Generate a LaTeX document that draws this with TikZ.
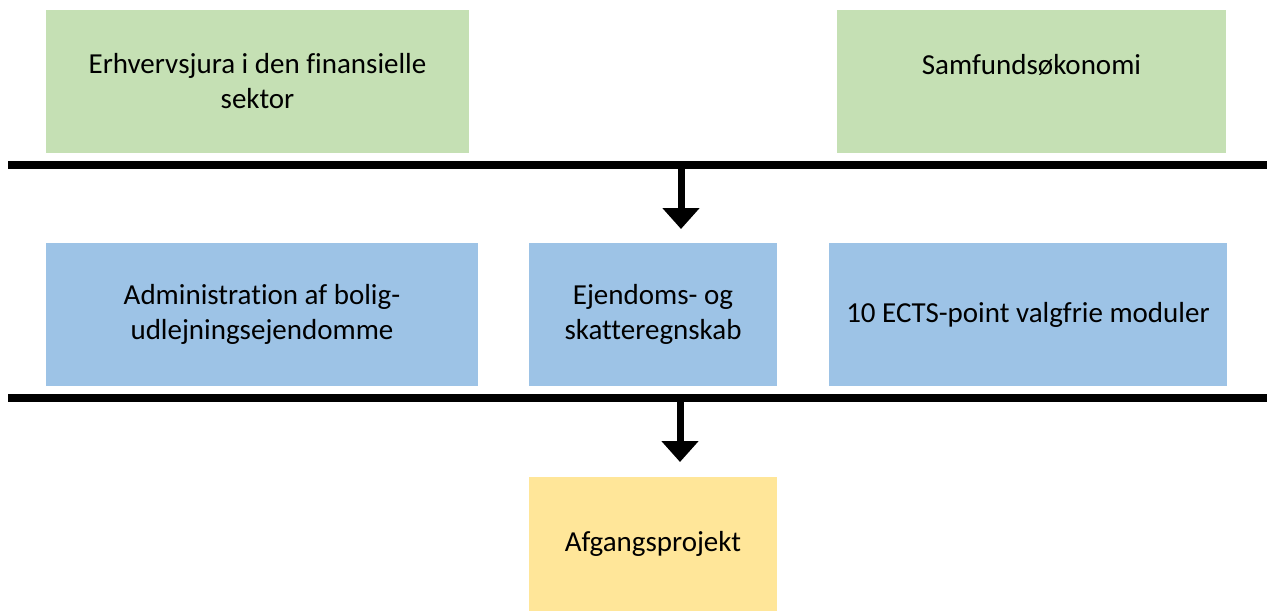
\documentclass[tikz,border=0pt]{standalone}
\usepackage{fontspec}
\setmainfont{Carlito}[Ligatures=NoCommon]
\usetikzlibrary{arrows.meta}
\definecolor{fagGreen}{HTML}{C5E0B4}
\definecolor{fagBlue}{HTML}{9DC3E6}
\definecolor{fagYellow}{HTML}{FFE699}

\begin{document}
\begin{tikzpicture}[x=1pt, y=-1pt, align=center]
\tikzstyle{box} = [rectangle, inner sep=0pt, minimum height=143pt, text centered, font=\fontsize{29}{35}\selectfont]
\tikzstyle{bar} = [line width=7.5pt]
\tikzstyle{arrow} = [line width=7pt, -{Triangle[width=36pt,length=21pt]}]
\useasboundingbox (0,0) rectangle (1267,611);
    \path
        (257.5, 81.5) node[box, fill=fagGreen, minimum width=423pt] (jura) {Erhvervsjura i den finansielle\\sektor}
        (1031.5, 81.5) node[box, fill=fagGreen, minimum width=389pt] (oekonomi) {Samfundsøkonomi\\\mbox{}}
        (262, 314.5) node[box, fill=fagBlue, minimum width=432pt] (admin) {Administration af bolig-\\udlejningsejendomme}
        (653, 314.5) node[box, fill=fagBlue, minimum width=248pt] (regnskab) {Ejendoms- og\\skatteregnskab}
        (1028, 314.5) node[box, fill=fagBlue, minimum width=398pt] (valgfri) {10 ECTS-point valgfrie moduler}
        (653, 544) node[box, fill=fagYellow, minimum width=248pt, minimum height=134pt] (projekt) {Afgangsprojekt};

    \coordinate (barA west) at (8, 165);
    \coordinate (barA east) at (1267, 165);
    \coordinate (barB west) at (8, 398);
    \coordinate (barB east) at (1267, 398);
    \coordinate (arrA start) at (681, 165);
    \coordinate (arrA end) at (681, 229);
    \coordinate (arrB start) at (680, 398);
    \coordinate (arrB end) at (680, 462);

        \draw [bar] (barA west) -- (barA east);
        \draw [bar] (barB west) -- (barB east);
        \draw [arrow] (arrA start) -- (arrA end);
        \draw [arrow] (arrB start) -- (arrB end);
\end{tikzpicture}
\end{document}
